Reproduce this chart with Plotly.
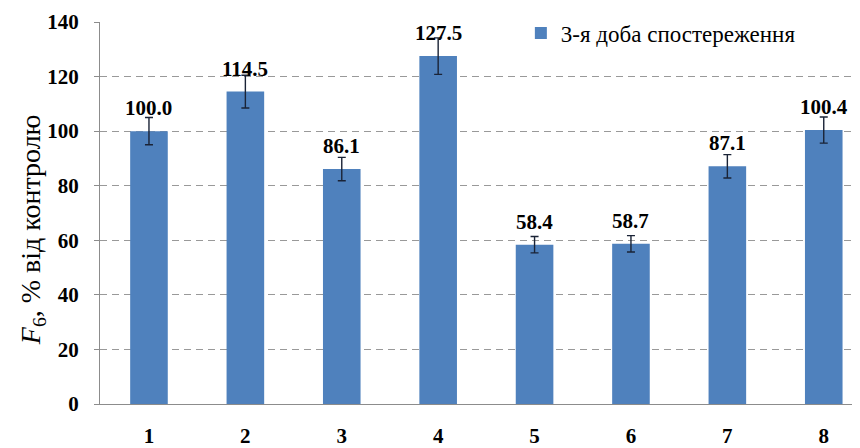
import plotly.graph_objects as go

categories = ["1", "2", "3", "4", "5", "6", "7", "8"]
values = [100.0, 114.5, 86.1, 127.5, 58.4, 58.7, 87.1, 100.4]
errors = [5.0, 6.0, 4.3, 6.7, 3.0, 3.0, 4.3, 4.8]
value_labels = ["100.0", "114.5", "86.1", "127.5", "58.4", "58.7", "87.1", "100.4"]
y_ticks = [0, 20, 40, 60, 80, 100, 120, 140]
series_name = "3-я доба спостереження"
y_title = "<i>F</i><sub>6</sub>, % від контролю"

SERIF = "Liberation Serif"

fig = go.Figure()
fig.add_trace(go.Bar(
    x=categories, y=values, name=series_name,
    marker=dict(color="#4F81BD", line=dict(width=0)),
    width=0.39,
    error_y=dict(type="data", array=errors, visible=True,
                 color="#1a2336", thickness=1.4, width=4),
    showlegend=True,
))

for i, (v, lab) in enumerate(zip(values, value_labels)):
    fig.add_annotation(x=i, y=v, text="<b>" + lab + "</b>", showarrow=False,
                       xanchor="center", yanchor="middle", yshift=23,
                       font=dict(family=SERIF, size=21, color="#000"))

fig.add_annotation(xref="paper", yref="paper", x=-0.0885, y=0.455,
                   text=y_title, textangle=-90, showarrow=False,
                   xanchor="center", yanchor="middle",
                   font=dict(family=SERIF, size=28, color="#000"))

fig.update_layout(
    width=860, height=448,
    margin=dict(l=92, r=0, t=14, b=52),
    paper_bgcolor="white", plot_bgcolor="white",
    legend=dict(x=0.548, y=0.971, xanchor="left", yanchor="middle",
                font=dict(family=SERIF, size=23, color="#000"),
                bgcolor="rgba(0,0,0,0)"),
    xaxis=dict(type="category", range=[-0.508, 7.459],
               showline=True, linecolor="#8c8c8c", linewidth=1,
               showgrid=False, ticks="", ticklabelstandoff=13,
               tickfont=dict(family=SERIF, size=21, color="#000", weight="bold")),
    yaxis=dict(range=[0, 140], tickvals=y_ticks, showline=True,
               linecolor="#8c8c8c", linewidth=1,
               showgrid=True, gridcolor="#999999", griddash="7px,5px", gridwidth=1,
               zeroline=False, ticks="outside", ticklen=5, tickcolor="#8c8c8c",
               ticklabelstandoff=11,
               tickfont=dict(family=SERIF, size=21, color="#000", weight="bold")),
)

fig.write_html("out.html")
